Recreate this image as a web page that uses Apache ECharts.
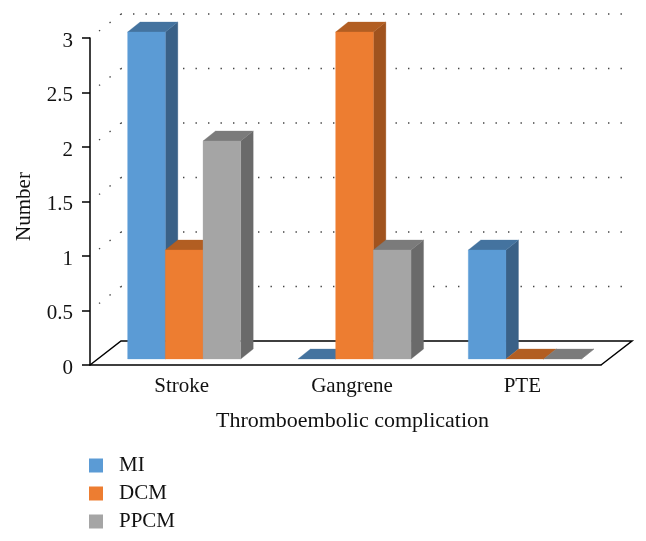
<!DOCTYPE html>
<html>
<head>
<meta charset="utf-8">
<style>html,body{margin:0;padding:0;background:#fff}#c{width:646px;height:541px}</style>
<script src="https://cdn.jsdelivr.net/npm/echarts@6/dist/echarts.min.js"></script>
</head>
<body>
<div id="c"></div>
<script>
var categories = ['Stroke', 'Gangrene', 'PTE'];
var MI = [3, 0, 1];
var DCM = [1, 3, 0];
var PPCM = [2, 1, 0];
var yTicks = [0.5, 1, 1.5, 2, 2.5, 3];

var serif = '"Liberation Serif", serif';
var FLOOR_DX = 31, FLOOR_DY = -24, BACK_END = 625;
var BAR_DX = 9, BAR_DY = -6, SIDE_DX = 12.5, SIDE_DY = -10, BAR_W = 37.7;

function poly(points, fill) {
  return { type: 'polygon', shape: { points: points }, style: { fill: fill, stroke: fill, lineWidth: 0.3 } };
}

function barSeries(name, values, slot, front, top, side) {
  return {
    name: name, type: 'custom', coordinateSystem: 'cartesian2d', z: 5 + slot,
    itemStyle: { color: front },
    data: categories.map(function (c, i) { return [c, values[i]]; }),
    renderItem: function (params, api) {
      var t = api.coord([api.value(0), api.value(1)]);
      var b = api.coord([api.value(0), 0]);
      var x0 = t[0] + BAR_DX + (slot - 1.5) * BAR_W;
      var x1 = x0 + BAR_W;
      var yt = t[1] + BAR_DY, yb = b[1] + BAR_DY;
      var kids = [
        poly([[x1, yt], [x1 + SIDE_DX, yt + SIDE_DY], [x1 + SIDE_DX, yb + SIDE_DY], [x1, yb]], side),
        poly([[x0, yt], [x0 + SIDE_DX, yt + SIDE_DY], [x1 + SIDE_DX, yt + SIDE_DY], [x1, yt]], top)
      ];
      if (api.value(1) > 0) kids.push(poly([[x0, yt], [x1, yt], [x1, yb], [x0, yb]], front));
      return { type: 'group', children: kids };
    }
  };
}

var gridSeries = {
  name: 'walls', type: 'custom', coordinateSystem: 'cartesian2d', silent: true, z: 2,
  data: yTicks.map(function (v) { return ['Stroke', v]; }),
  renderItem: function (params, api) {
    var y = api.coord([0, api.value(1)])[1];
    var cs = params.coordSys;
    var dots = { stroke: '#444', lineWidth: 1.3, lineDash: [1.4, 11.9], lineDashOffset: 1.9 };
    return { type: 'group', children: [
      { type: 'line', shape: { x1: cs.x, y1: y, x2: cs.x + FLOOR_DX, y2: y + FLOOR_DY }, style: dots },
      { type: 'line', shape: { x1: cs.x + FLOOR_DX, y1: y + FLOOR_DY, x2: BACK_END, y2: y + FLOOR_DY },
        style: { stroke: '#444', lineWidth: 1.3, lineDash: [1.4, 11.1], lineDashOffset: 0.5 } }
    ] };
  }
};

var floorSeries = {
  name: 'floor', type: 'custom', coordinateSystem: 'cartesian2d', silent: true, z: 3,
  data: [['Stroke', 0]],
  renderItem: function (params, api) {
    var y = api.coord([0, 0])[1];
    var cs = params.coordSys;
    return { type: 'polyline', shape: { points: [
      [cs.x, y], [cs.x + FLOOR_DX, y + FLOOR_DY],
      [cs.x + cs.width + FLOOR_DX, y + FLOOR_DY], [cs.x + cs.width, y]
    ] }, style: { stroke: '#000', lineWidth: 1.5, fill: null } };
  }
};

var chart = echarts.init(document.getElementById('c'), null, { renderer: 'canvas' });
chart.setOption({
  animation: false,
  backgroundColor: '#fff',
  grid: { left: 90, right: 45, top: 38, bottom: 176 },
  legend: {
    orient: 'vertical', left: 89, top: 455, height: 86, padding: 0, itemWidth: 14, itemHeight: 14, itemGap: 7, icon: 'rect',
    data: ['MI', 'DCM', 'PPCM'],
    textStyle: { fontFamily: serif, fontSize: 21, color: '#111', padding: [0, 0, 0, 11] }
  },
  xAxis: {
    type: 'category', data: categories, name: 'Thromboembolic complication',
    nameLocation: 'middle', nameGap: 45,
    nameTextStyle: { fontFamily: serif, fontSize: 22, color: '#111', padding: [0, 0, 0, 14] },
    axisLine: { lineStyle: { color: '#000', width: 1.5 } }, axisTick: { show: false },
    axisLabel: { fontFamily: serif, fontSize: 21, color: '#111', margin: 11, padding: [0, 0, 0, 13] }
  },
  yAxis: {
    type: 'value', min: 0, max: 3, interval: 0.5, name: 'Number',
    nameLocation: 'middle', nameGap: 55,
    nameTextStyle: { fontFamily: serif, fontSize: 21, color: '#111', padding: [0, 10, 0, 0] },
    splitLine: { show: false },
    axisLine: { show: true, lineStyle: { color: '#000', width: 1.5 } },
    axisTick: { show: true, length: 8, lineStyle: { color: '#000', width: 1.5 } },
    axisLabel: { fontFamily: serif, fontSize: 21, color: '#111', margin: 17, verticalAlign: 'top', lineHeight: 6 }
  },
  series: [
    gridSeries, floorSeries,
    barSeries('MI', MI, 0, '#5B9BD5', '#44739F', '#3A6187'),
    barSeries('DCM', DCM, 1, '#ED7D31', '#B25E22', '#A0531E'),
    barSeries('PPCM', PPCM, 2, '#A5A5A5', '#7B7B7B', '#6A6A6A')
  ]
});
</script>
</body>
</html>
